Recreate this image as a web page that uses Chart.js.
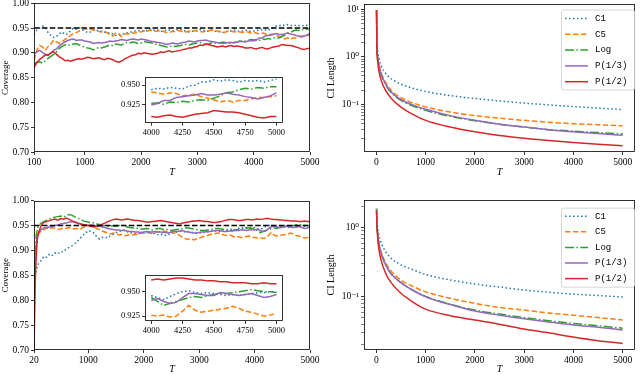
<!DOCTYPE html>
<html>
<head>
<meta charset="utf-8">
<script src="https://cdn.jsdelivr.net/npm/chart.js@4.4.1/dist/chart.umd.min.js"></script>
<style>
  body { margin: 0; background: #fff; }
  #page { position: relative; width: 640px; height: 375px; overflow: hidden; background: #fff; }
  canvas { position: absolute; }
</style>
</head>
<body>
<div id="page">
  <canvas id="covTop" width="320" height="187" style="left:0;top:0"></canvas>
  <canvas id="lenTop" width="320" height="187" style="left:320px;top:0"></canvas>
  <canvas id="covBot" width="320" height="188" style="left:0;top:187px"></canvas>
  <canvas id="lenBot" width="320" height="188" style="left:320px;top:187px"></canvas>
  <canvas id="zoomTop" width="180" height="66" style="left:108px;top:72px"></canvas>
  <canvas id="zoomBot" width="180" height="66" style="left:108px;top:270px"></canvas>
</div>
<script>
// methods, in legend order
const methods = ['C1', 'C5', 'Log', 'P(1/3)', 'P(1/2)'];
const nominal = 0.95;

// coverage, top row (T from 100), rows of 10
const tTop = [100,150,200,250,300,350,400,450,500,550,
  600,650,700,750,800,850,900,950,1000,1050,
  1100,1150,1200,1250,1300,1350,1400,1450,1500,1550,
  1600,1650,1700,1750,1800,1850,1900,1950,2000,2050,
  2100,2150,2200,2250,2300,2350,2400,2450,2500,2550,
  2600,2650,2700,2750,2800,2850,2900,2950,3000,3050,
  3100,3150,3200,3250,3300,3350,3400,3450,3500,3550,
  3600,3650,3700,3750,3800,3850,3900,3950,4000,4050,
  4100,4150,4200,4250,4300,4350,4400,4450,4500,4550,
  4600,4650,4700,4750,4800,4850,4900,4950,5000];
const topC1 = [.937,.946,.950,.954,.952,.941,.935,.931,.933,.939,
  .942,.937,.938,.945,.950,.948,.951,.947,.944,.941,
  .942,.946,.947,.943,.944,.942,.940,.941,.938,.935,
  .936,.939,.938,.940,.941,.943,.944,.944,.946,.944,
  .945,.948,.947,.945,.946,.943,.944,.946,.946,.944,
  .945,.947,.947,.945,.944,.942,.943,.945,.945,.947,
  .946,.943,.944,.946,.945,.942,.943,.941,.942,.944,
  .944,.946,.945,.943,.944,.946,.945,.943,.944,.946,
  .945,.947,.946,.945,.949,.950,.954,.954,.957,.955,
  .957,.956,.954,.956,.955,.956,.954,.956,.958];
const topC5 = [.885,.905,.915,.912,.905,.913,.918,.926,.922,.919,
  .922,.927,.930,.936,.939,.941,.944,.948,.947,.949,
  .948,.946,.945,.943,.942,.944,.940,.937,.934,.940,
  .938,.933,.937,.939,.938,.940,.940,.943,.942,.944,
  .943,.946,.945,.943,.944,.945,.943,.941,.941,.943,
  .943,.945,.944,.942,.942,.944,.943,.945,.944,.943,
  .942,.944,.944,.946,.945,.944,.943,.941,.942,.944,
  .944,.942,.943,.942,.941,.943,.942,.940,.941,.940,
  .938,.940,.939,.936,.937,.938,.935,.933,.931,.928,
  .930,.928,.930,.930,.932,.934,.934,.935,.936];
const topLog = [.878,.881,.882,.879,.884,.889,.893,.897,.902,.909,
  .913,.916,.917,.915,.918,.919,.916,.914,.912,.910,
  .909,.906,.908,.911,.910,.912,.914,.916,.915,.918,
  .917,.916,.918,.921,.920,.922,.921,.919,.920,.923,
  .922,.921,.920,.918,.917,.915,.914,.912,.912,.914,
  .913,.914,.915,.917,.917,.916,.918,.919,.920,.921,
  .919,.917,.918,.920,.919,.921,.920,.922,.921,.919,
  .920,.921,.922,.924,.923,.924,.925,.927,.926,.927,
  .925,.928,.927,.929,.928,.930,.931,.930,.933,.936,
  .940,.941,.944,.946,.945,.947,.946,.948,.948];
const topP3 = [.897,.902,.905,.901,.897,.896,.900,.905,.908,.914,
  .918,.922,.925,.927,.928,.925,.926,.926,.924,.923,
  .922,.919,.920,.921,.920,.921,.922,.924,.923,.924,
  .925,.927,.926,.925,.927,.928,.927,.926,.928,.927,
  .926,.924,.923,.922,.921,.920,.919,.917,.918,.920,
  .919,.918,.920,.921,.922,.924,.923,.922,.924,.925,
  .925,.926,.924,.923,.922,.921,.920,.919,.920,.921,
  .921,.920,.922,.923,.923,.922,.924,.925,.924,.926,
  .930,.930,.934,.935,.936,.937,.939,.937,.937,.938,
  .940,.938,.937,.935,.934,.932,.934,.936,.940];
const topP2 = [.871,.880,.887,.891,.896,.895,.900,.902,.897,.892,
  .889,.884,.885,.883,.885,.887,.888,.887,.889,.891,
  .890,.888,.889,.890,.888,.886,.889,.888,.886,.883,
  .881,.883,.887,.890,.893,.895,.896,.899,.898,.900,
  .899,.898,.897,.898,.899,.902,.901,.903,.904,.902,
  .903,.904,.905,.907,.908,.910,.910,.912,.913,.916,
  .915,.918,.917,.915,.914,.912,.913,.914,.912,.914,
  .915,.913,.914,.913,.912,.910,.910,.911,.909,.908,
  .910,.911,.909,.908,.910,.912,.913,.914,.917,.916,
  .915,.915,.914,.912,.910,.908,.907,.909,.909];

// coverage, bottom row (T from 20)
const tBot = [20,40,60,80,
  100,150,200,250,300,350,400,450,500,550,
  600,650,700,750,800,850,900,950,1000,1050,
  1100,1150,1200,1250,1300,1350,1400,1450,1500,1550,
  1600,1650,1700,1750,1800,1850,1900,1950,2000,2050,
  2100,2150,2200,2250,2300,2350,2400,2450,2500,2550,
  2600,2650,2700,2750,2800,2850,2900,2950,3000,3050,
  3100,3150,3200,3250,3300,3350,3400,3450,3500,3550,
  3600,3650,3700,3750,3800,3850,3900,3950,4000,4050,
  4100,4150,4200,4250,4300,4350,4400,4450,4500,4550,
  4600,4650,4700,4750,4800,4850,4900,4950,5000];
const botC1 = [.800,.850,.862,.868,
  .873,.880,.888,.886,.893,.890,.895,.893,.898,.897,
  .903,.906,.909,.913,.918,.924,.930,.935,.940,.938,
  .935,.928,.923,.926,.927,.925,.930,.933,.936,.938,
  .940,.941,.938,.935,.936,.934,.933,.936,.935,.938,
  .937,.935,.934,.932,.931,.933,.930,.932,.934,.936,
  .937,.938,.939,.937,.938,.937,.936,.934,.935,.937,
  .936,.937,.938,.940,.939,.938,.940,.942,.941,.942,
  .943,.942,.944,.946,.945,.944,.946,.947,.946,.944,
  .942,.945,.948,.950,.951,.949,.948,.949,.948,.947,
  .946,.947,.946,.947,.948,.949,.949,.950,.950];
const botC5 = [.740,.860,.905,.925,
  .933,.940,.942,.945,.943,.946,.944,.942,.943,.945,
  .944,.946,.945,.943,.944,.942,.946,.948,.950,.949,
  .947,.944,.942,.939,.937,.935,.933,.935,.934,.931,
  .932,.930,.930,.932,.931,.932,.933,.935,.934,.936,
  .935,.934,.936,.938,.937,.939,.938,.937,.936,.935,
  .934,.930,.927,.924,.922,.924,.921,.923,.925,.927,
  .928,.930,.932,.933,.934,.935,.933,.931,.930,.931,
  .929,.927,.928,.926,.927,.928,.929,.927,.926,.925,
  .926,.924,.925,.930,.936,.931,.929,.930,.931,.932,
  .933,.935,.933,.930,.929,.927,.925,.926,.928];
const botLog = [.800,.900,.930,.942,
  .950,.955,.958,.961,.963,.966,.967,.968,.969,.967,
  .970,.972,.971,.968,.966,.963,.960,.958,.957,.956,
  .955,.953,.952,.950,.950,.948,.950,.949,.948,.950,
  .950,.951,.947,.946,.945,.946,.944,.943,.943,.944,
  .943,.941,.942,.944,.944,.942,.943,.941,.940,.941,
  .942,.943,.944,.946,.945,.944,.943,.942,.941,.940,
  .940,.941,.942,.943,.944,.944,.943,.942,.941,.940,
  .940,.941,.942,.943,.944,.946,.945,.944,.944,.940,
  .936,.938,.940,.942,.944,.945,.944,.946,.947,.948,
  .948,.949,.950,.951,.952,.951,.950,.950,.949];
const botP3 = [.760,.870,.910,.928,
  .935,.942,.945,.946,.947,.948,.950,.951,.953,.954,
  .955,.957,.957,.958,.956,.954,.952,.951,.950,.951,
  .950,.948,.949,.947,.946,.944,.943,.942,.941,.941,
  .940,.940,.939,.938,.938,.937,.937,.936,.937,.938,
  .937,.937,.938,.937,.937,.936,.936,.935,.937,.938,
  .938,.939,.940,.938,.937,.936,.935,.935,.936,.937,
  .937,.938,.938,.939,.940,.940,.939,.938,.938,.939,
  .939,.940,.940,.941,.941,.940,.941,.942,.941,.943,
  .940,.938,.939,.944,.948,.948,.947,.946,.946,.949,
  .948,.947,.946,.947,.948,.946,.944,.945,.947];
const botP2 = [.700,.830,.890,.923,
  .935,.950,.957,.958,.960,.962,.963,.961,.964,.963,
  .965,.963,.960,.957,.955,.953,.952,.951,.950,.948,
  .947,.949,.950,.953,.955,.958,.960,.962,.963,.962,
  .961,.962,.963,.962,.961,.960,.960,.959,.958,.957,
  .957,.958,.958,.959,.960,.959,.958,.957,.956,.955,
  .954,.953,.955,.956,.957,.958,.959,.959,.960,.959,
  .958,.958,.957,.956,.956,.957,.958,.960,.961,.962,
  .962,.961,.960,.960,.961,.962,.962,.961,.962,.963,
  .962,.963,.964,.964,.963,.962,.962,.961,.961,.960,
  .960,.959,.959,.959,.958,.958,.959,.958,.958];

// CI length
const tLen = [5,12,25,50,100,200,300,500,750,1000,1500,2000,2500,3000,3500,4000,4500,5000];
const lenTopC1  = [9.5,2.2,1.4,0.95,0.65,0.44,0.35,0.27,0.22,0.19,0.155,0.135,0.12,0.108,0.099,0.091,0.085,0.079];
const lenTopC5  = [9.5,1.8,1.1,0.72,0.46,0.28,0.2,0.14,0.108,0.09,0.07,0.059,0.052,0.047,0.043,0.040,0.038,0.036];
const lenTopLog = [9.5,1.7,1.05,0.68,0.43,0.25,0.18,0.123,0.093,0.076,0.057,0.046,0.039,0.034,0.030,0.028,0.026,0.0245];
const lenTopP3  = [9.5,1.7,1.05,0.68,0.43,0.26,0.185,0.128,0.098,0.08,0.059,0.047,0.039,0.034,0.030,0.027,0.025,0.0228];
const lenTopP2  = [9.5,1.5,0.85,0.53,0.32,0.19,0.137,0.089,0.062,0.047,0.034,0.027,0.0225,0.0197,0.0177,0.0161,0.0148,0.0138];
const lenBotC1  = [1.85,1.35,1.05,0.8,0.6,0.44,0.36,0.29,0.245,0.21,0.175,0.153,0.138,0.125,0.116,0.109,0.104,0.099];
const lenBotC5  = [1.85,1.2,0.86,0.62,0.44,0.30,0.235,0.175,0.14,0.118,0.095,0.080,0.070,0.064,0.058,0.054,0.050,0.046];
const lenBotLog = [1.9,1.2,0.85,0.6,0.42,0.28,0.215,0.16,0.123,0.101,0.078,0.064,0.056,0.050,0.045,0.041,0.038,0.035];
const lenBotP3  = [1.85,1.2,0.85,0.6,0.42,0.28,0.215,0.16,0.123,0.100,0.077,0.062,0.054,0.048,0.043,0.039,0.036,0.033];
const lenBotP2  = [1.75,1.1,0.75,0.5,0.33,0.21,0.16,0.112,0.083,0.066,0.053,0.046,0.040,0.034,0.030,0.026,0.023,0.021];

// tick values
const covTicksY = [0.70,0.75,0.80,0.85,0.90,0.95,1.00];
const topTicksX = [100,1000,2000,3000,4000,5000];
const botTicksX = [20,1000,2000,3000,4000,5000];
const lenTicksX = [0,1000,2000,3000,4000,5000];
const zoomTicksX = [4000,4250,4500,4750,5000];
const zoomTicksY = [0.925,0.950];
const logMajor = [0.01,0.1,1,10];
const logMajorLabels = {'0.01': '10\u207B\u00B2', '0.1': '10\u207B\u00B9', '1': '10\u2070', '10': '10\u00B9'};
const logMantissa = [1,2,3,4,5,6,7,8,9];

// styles
const colors = ['#1f77b4', '#ff7f0e', '#2ca02c', '#9467bd', '#d62728'];
const dashes = [[1.5, 2.5], [5.5, 2.4], [9, 2.4, 1.5, 2.4], [], []];
const serif = "'Liberation Serif', 'DejaVu Serif', serif";

function seriesSets(xs, series, opts) {
  return series.map((ys, i) => ({
    label: methods[i],
    data: xs.map((x, j) => ({x: x, y: ys[j]})).filter(p => p.x >= opts.from),
    borderColor: colors[i],
    borderDash: dashes[i],
    borderWidth: opts.width,
    pointRadius: 0,
    order: 5 - i,
    tension: 0,
    cubicInterpolationMode: opts.smooth ? 'monotone' : 'default'
  }));
}

function nominalLine(xs) {
  return {
    label: '',
    data: [{x: xs[0], y: nominal}, {x: xs[xs.length - 1], y: nominal}],
    borderColor: '#000', borderDash: [5.5, 2.4], borderWidth: 1.5,
    pointRadius: 0, order: 0
  };
}

function logTicks(min, max) {
  const out = [];
  logMajor.forEach(p => logMantissa.forEach(m => {
    const v = m * p;
    if (v >= min && v <= max) out.push({value: v, major: m === 1});
  }));
  return out;
}

const framePlugin = {
  id: 'frame',
  beforeDatasetsDraw(chart, args, opts) {
    if (!opts.fill) return;
    const a = chart.chartArea, ctx = chart.ctx;
    ctx.save();
    ctx.fillStyle = '#fff';
    ctx.fillRect(a.left, a.top, a.right - a.left, a.bottom - a.top);
    ctx.restore();
  },
  afterDatasetsDraw(chart) {
    const a = chart.chartArea, ctx = chart.ctx;
    ctx.save();
    ctx.strokeStyle = '#000';
    ctx.lineWidth = 0.8;
    ctx.strokeRect(Math.round(a.left) + 0.5, Math.round(a.top) + 0.5,
      Math.round(a.right - a.left) - 1, Math.round(a.bottom - a.top) - 1);
    ctx.restore();
  }
};

const legendPlugin = {
  id: 'mlLegend',
  afterDatasetsDraw(chart, args, opts) {
    if (!opts || !opts.width) return;
    const ctx = chart.ctx, a = chart.chartArea;
    const items = chart.data.datasets.filter(d => d.label);
    const x0 = a.right - opts.right - opts.width, y0 = a.top + opts.top;
    ctx.save();
    ctx.beginPath();
    if (ctx.roundRect) ctx.roundRect(x0 + 0.5, y0 + 0.5, opts.width, opts.height, 2);
    else ctx.rect(x0 + 0.5, y0 + 0.5, opts.width, opts.height);
    ctx.fillStyle = 'rgba(255,255,255,0.8)';
    ctx.fill();
    ctx.lineWidth = 0.8;
    ctx.strokeStyle = '#cccccc';
    ctx.stroke();
    items.forEach((d, i) => {
      const y = y0 + opts.first + i * opts.row;
      ctx.beginPath();
      ctx.setLineDash(d.borderDash || []);
      ctx.strokeStyle = d.borderColor;
      ctx.lineWidth = d.borderWidth;
      ctx.moveTo(x0 + 4, y);
      ctx.lineTo(x0 + 27, y);
      ctx.stroke();
      ctx.setLineDash([]);
      ctx.fillStyle = '#000';
      ctx.font = "9px 'Liberation Mono', 'DejaVu Sans Mono', monospace";
      ctx.textBaseline = 'middle';
      ctx.fillText(d.label, x0 + 34, y);
    });
    ctx.restore();
  }
};

function makeChart(id, rect, plot, o) {
  const tickFont = {family: serif, size: o.tickSize};
  const grid = {
    drawOnChartArea: false, drawTicks: true, tickLength: 3, tickColor: '#000',
    tickWidth: (c) => (c.tick && c.tick.major === false) ? 0.5 : 0.8
  };
  new Chart(document.getElementById(id), {
    type: 'line',
    data: {datasets: o.datasets},
    options: {
      responsive: false,
      animation: false,
      events: [],
      layout: {padding: {left: 0, bottom: 0, top: plot.top - rect.top, right: rect.left + rect.w - plot.right}},
      plugins: {
        legend: {display: false},
        tooltip: {enabled: false},
        frame: {fill: !!o.fill},
        mlLegend: o.legend || {}
      },
      scales: {
        x: {
          type: 'linear', min: o.xMin, max: o.xMax, bounds: 'data',
          afterBuildTicks: (s) => { s.ticks = o.xTicks.map(v => ({value: v})); },
          afterFit: (s) => { s.height = rect.top + rect.h - plot.bottom; s.paddingLeft = 0; s.paddingRight = 0; },
          ticks: {autoSkip: false, maxRotation: 0, padding: 2, color: '#000', font: tickFont, callback: (v) => String(v)},
          grid: grid,
          border: {display: false},
          title: o.xTitle ? {display: true, text: 'T', color: '#000',
            font: {family: serif, size: 10, style: 'italic'}, padding: {top: 0, bottom: o.xTitlePad}} : {display: false}
        },
        y: {
          type: o.yType, min: o.yMin, max: o.yMax, bounds: 'data',
          afterBuildTicks: (s) => { s.ticks = o.yTicks(); },
          afterFit: (s) => { s.width = plot.left - rect.left; s.paddingTop = 0; s.paddingBottom = 0; },
          ticks: {autoSkip: false, padding: 2, color: '#000', font: tickFont, callback: o.yLabel},
          grid: grid,
          border: {display: false},
          title: o.yTitle ? {display: true, text: o.yTitle, color: '#000',
            font: {family: serif, size: o.yTitleSize}, padding: {top: o.yTitlePad, bottom: 0}} : {display: false}
        }
      }
    },
    plugins: [framePlugin, legendPlugin]
  });
}

const covLabel = (v) => v.toFixed(2);
const zoomLabel = (v) => v.toFixed(3);
const logLabel = (v) => logMajorLabels[String(v)] || '';
const legendTop = {width: 73, height: 80, right: 1, top: 5.5, first: 9, row: 15.8};
const legendBot = {width: 73, height: 79, right: 1, top: 7.7, first: 8.5, row: 15.6};

// top-left: coverage
makeChart('covTop', {left: 0, top: 0, w: 320, h: 187}, {left: 34, top: 3.3, right: 310, bottom: 152}, {
  datasets: [...seriesSets(tTop, [topC1, topC5, topLog, topP3, topP2], {from: 0, width: 1.5}), nominalLine(tTop)],
  xMin: 100, xMax: 5000, xTicks: topTicksX, xTitle: true, xTitlePad: 9,
  yType: 'linear', yMin: 0.7, yMax: 1.0, yTicks: () => covTicksY.map(v => ({value: v})), yLabel: covLabel,
  yTitle: 'Coverage', yTitleSize: 9, yTitlePad: 0, tickSize: 9.5
});
makeChart('zoomTop', {left: 108, top: 72, w: 180, h: 66}, {left: 145, top: 76.7, right: 282.7, bottom: 122.7}, {
  datasets: seriesSets(tTop, [topC1, topC5, topLog, topP3, topP2], {from: 4000, width: 1.5}),
  xMin: 3950, xMax: 5050, xTicks: zoomTicksX, xTitle: false, fill: true,
  yType: 'linear', yMin: 0.901, yMax: 0.961, yTicks: () => zoomTicksY.map(v => ({value: v})), yLabel: zoomLabel,
  yTitle: '', tickSize: 8.5
});
// top-right: CI length
makeChart('lenTop', {left: 320, top: 0, w: 320, h: 187}, {left: 364, top: 4, right: 635, bottom: 152}, {
  datasets: seriesSets(tLen, [lenTopC1, lenTopC5, lenTopLog, lenTopP3, lenTopP2], {from: 0, width: 1.5, smooth: true}),
  xMin: -250, xMax: 5250, xTicks: lenTicksX, xTitle: true, xTitlePad: 9,
  yType: 'logarithmic', yMin: 0.0102, yMax: 12.9, yTicks: () => logTicks(0.0102, 12.9), yLabel: logLabel,
  yTitle: 'CI Length', yTitleSize: 10, yTitlePad: 5.5, tickSize: 9.5, legend: legendTop
});
// bottom-left: coverage
makeChart('covBot', {left: 0, top: 187, w: 320, h: 188}, {left: 34, top: 200.7, right: 310, bottom: 350}, {
  datasets: [...seriesSets(tBot, [botC1, botC5, botLog, botP3, botP2], {from: 0, width: 1.5}), nominalLine(tBot)],
  xMin: 20, xMax: 5000, xTicks: botTicksX, xTitle: true, xTitlePad: 0,
  yType: 'linear', yMin: 0.7, yMax: 1.0, yTicks: () => covTicksY.map(v => ({value: v})), yLabel: covLabel,
  yTitle: 'Coverage', yTitleSize: 9, yTitlePad: 0, tickSize: 9.5
});
makeChart('zoomBot', {left: 108, top: 270, w: 180, h: 66}, {left: 145, top: 275, right: 282.7, bottom: 321}, {
  datasets: seriesSets(tBot, [botC1, botC5, botLog, botP3, botP2], {from: 4000, width: 1.5}),
  xMin: 3950, xMax: 5050, xTicks: zoomTicksX, xTitle: false, fill: true,
  yType: 'linear', yMin: 0.920, yMax: 0.967, yTicks: () => zoomTicksY.map(v => ({value: v})), yLabel: zoomLabel,
  yTitle: '', tickSize: 8.5
});
// bottom-right: CI length
makeChart('lenBot', {left: 320, top: 187, w: 320, h: 188}, {left: 364, top: 200, right: 635, bottom: 350}, {
  datasets: seriesSets(tLen, [lenBotC1, lenBotC5, lenBotLog, lenBotP3, lenBotP2], {from: 0, width: 1.5, smooth: true}),
  xMin: -250, xMax: 5250, xTicks: lenTicksX, xTitle: true, xTitlePad: 0,
  yType: 'logarithmic', yMin: 0.0169, yMax: 2.52, yTicks: () => logTicks(0.0169, 2.52), yLabel: logLabel,
  yTitle: 'CI Length', yTitleSize: 10, yTitlePad: 5.5, tickSize: 9.5, legend: legendBot
});
</script>
</body>
</html>
